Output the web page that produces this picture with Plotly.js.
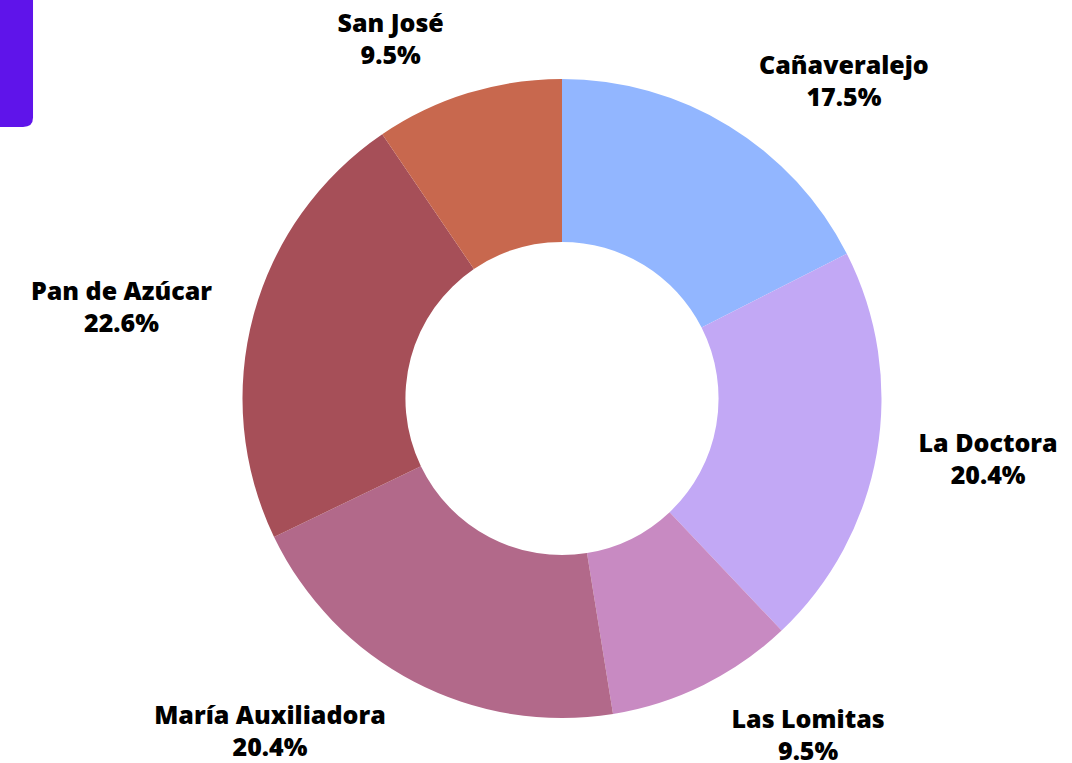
<!DOCTYPE html>
<html>
<head>
<meta charset="utf-8">
<script src="https://cdn.plot.ly/plotly-3.0.1.min.js"></script>
<style>
  html, body { margin: 0; padding: 0; background: #fff; }
  #chart { width: 1072px; height: 763px; }
</style>
</head>
<body>
<div id="chart"></div>
<script>
const barrios = ["Cañaveralejo", "La Doctora", "Las Lomitas", "María Auxiliadora", "Pan de Azúcar", "San José"];
const porcentajes = [17.5, 20.4, 9.5, 20.4, 22.6, 9.5];
const colores = ["#92B6FF", "#C2A8F5", "#C88AC2", "#B2698A", "#A64F58", "#C8684E"];

// the donut itself, no text
const donut = {
  type: "pie",
  labels: barrios,
  values: porcentajes,
  sort: false,
  direction: "clockwise",
  rotation: 0,
  hole: 0.49,
  marker: { colors: colores, line: { width: 0 } },
  textinfo: "none",
  showlegend: false,
  automargin: false,
  domain: { x: [0.2257, 0.8228], y: [0.059, 0.8965] }
};

// same slices, a bit larger and transparent, only to push the labels outward
const labelsRing = {
  type: "pie",
  labels: barrios,
  values: porcentajes,
  sort: false,
  direction: "clockwise",
  rotation: 0,
  hole: 0.95,
  marker: { colors: barrios.map(() => "rgba(0,0,0,0)"), line: { width: 0 } },
  textposition: "outside",
  texttemplate: "%{label}<br>%{value:.1f}%",
  textfont: { family: "Open Sans", size: 25, weight: 800, color: "#000" },
  hoverinfo: "skip",
  showlegend: false,
  automargin: false,
  domain: { x: [0.2024, 0.8461], y: [0.0262, 0.9305] }
};

const layout = {
  width: 1072,
  height: 763,
  margin: { l: 0, r: 0, t: 0, b: 0 },
  paper_bgcolor: "#fff",
  font: { family: "Open Sans" },
  shapes: [{
    // purple tab in the corner
    type: "path",
    xref: "paper", yref: "paper",
    path: "M 0 1 L 0.0308 1 L 0.0308 0.846 Q 0.0308 0.8336 0.0215 0.8336 L 0 0.8336 Z",
    fillcolor: "#5F14EA",
    line: { width: 0 }
  }]
};

Plotly.newPlot("chart", [donut, labelsRing], layout, { displayModeBar: false });
</script>
</body>
</html>
